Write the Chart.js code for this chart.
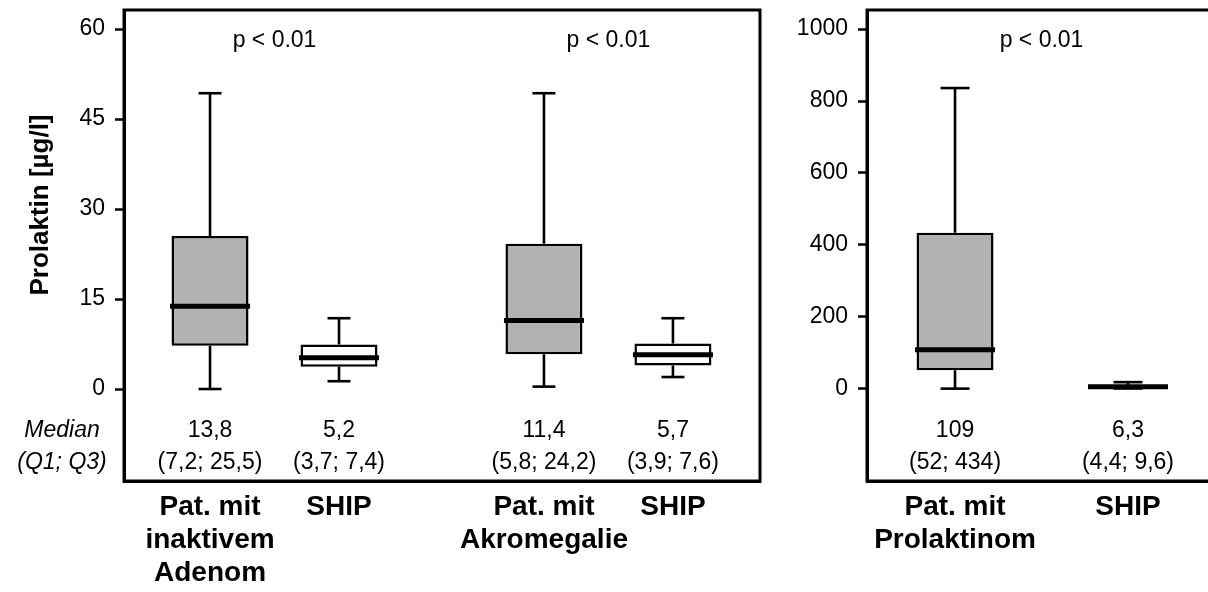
<!DOCTYPE html>
<html><head><meta charset="utf-8">
<script src="https://cdn.jsdelivr.net/npm/chart.js@4.4.1/dist/chart.umd.min.js"></script>
<style>
html,body{margin:0;padding:0;background:#fff;overflow:hidden;width:1208px;height:592px;position:relative}
canvas{position:absolute;top:0}
#c1{left:0}
#c2{left:770px}
</style></head>
<body>
<canvas id="c1" width="770" height="592"></canvas>
<canvas id="c2" width="450" height="592"></canvas>
<script>
// ---- data ----
const leftCategories = [["Pat. mit","inaktivem","Adenom"],["SHIP"],["Pat. mit","Akromegalie"],["SHIP"]];
const leftMin    = [0.0, 1.3, 0.4, 2.0];
const leftQ1     = [7.2, 3.7, 5.8, 3.9];
const leftMedian = [13.8, 5.2, 11.4, 5.7];
const leftQ3     = [25.5, 7.4, 24.2, 7.6];
const leftMax    = [49.3, 11.8, 49.3, 11.8];
const leftYTicks = [0, 15, 30, 45, 60];
const leftPText  = ["p < 0.01", "p < 0.01"];

const rightCategories = [["Pat. mit","Prolaktinom"],["SHIP"]];
const rightMin    = [1, 1.5];
const rightQ1     = [52, 4.4];
const rightMedian = [109, 6.3];
const rightQ3     = [434, 9.6];
const rightMax    = [836, 19];
const rightYTicks = [0, 200, 400, 600, 800, 1000];
const rightPText  = ["p < 0.01"];

const yTitle = "Prolaktin [µg/l]";
const rowLabels = ["Median", "(Q1; Q3)"];

// ---- rendering ----
const FONT = "'Liberation Sans', Arial, Helvetica, sans-serif";
const fmt = v => Number.isInteger(v) ? String(v) : String(v).replace('.', ',');

function build(canvasId, s) {
  const pos = s.categories.map((c, i) => Math.floor(i / s.perPair) * s.pairStep + (i % s.perPair));
  const fills = s.categories.map(c => c[0] === 'SHIP' ? '#ffffff' : '#b2b2b2');
  const boxes = pos.map((p, i) => ({x: p, y: [s.q1[i], s.q3[i]]}));
  const whiskers = [];
  pos.forEach((p, i) => {
    whiskers.push({x: p, y: s.q3[i]}, {x: p, y: s.max[i]}, {x: p, y: null},
                  {x: p, y: s.min[i]}, {x: p, y: s.q1[i]}, {x: p, y: null});
  });
  const caps = [];
  pos.forEach((p, i) => { caps.push({x: p, y: s.max[i]}, {x: p, y: s.min[i]}); });
  const medians = pos.map((p, i) => ({x: p, y: s.median[i]}));

  const textPlugin = {
    id: 'texts',
    afterDraw(chart) {
      const ctx = chart.ctx, xs = chart.scales.x, ys = chart.scales.y, a = chart.chartArea;
      ctx.save();
      ctx.strokeStyle = '#000'; ctx.lineWidth = 3;
      ctx.strokeRect(a.left, a.top, a.right - a.left, a.bottom - a.top);
      ctx.fillStyle = '#000';
      ctx.textAlign = 'center'; ctx.textBaseline = 'middle';
      ctx.font = `23px ${FONT}`;
      const y0 = ys.getPixelForValue(0);
      pos.forEach((p, i) => {
        const x = xs.getPixelForValue(p);
        ctx.fillText(fmt(s.median[i]), x, y0 + 42);
        ctx.fillText(`(${fmt(s.q1[i])}; ${fmt(s.q3[i])})`, x, y0 + 74);
      });
      s.pText.forEach((t, k) => {
        const x = xs.getPixelForValue((pos[k * s.perPair] + pos[k * s.perPair + s.perPair - 1]) / 2);
        ctx.fillText(t, x, a.top + 31);
      });
      if (s.rowLabels) {
        ctx.font = `italic 23px ${FONT}`;
        ctx.fillText(s.rowLabels[0], 62, y0 + 42);
        ctx.fillText(s.rowLabels[1], 62, y0 + 74);
      }
      if (s.title) {
        ctx.font = `bold 26px ${FONT}`;
        ctx.translate(41, ys.getPixelForValue(s.yTicks[s.yTicks.length - 1] / 2) - 4);
        ctx.rotate(-Math.PI / 2);
        ctx.fillText(s.title, 0, 0);
      }
      ctx.restore();
    }
  };

  return new Chart(document.getElementById(canvasId), {
    type: 'bar',
    data: {
      datasets: [
        {type: 'bar', data: boxes, backgroundColor: fills, borderColor: '#000', borderWidth: 2.5,
         borderSkipped: false, barThickness: 77, inflateAmount: 0, order: 4},
        {type: 'line', data: whiskers, borderColor: '#000', borderWidth: 2.6, pointRadius: 0,
         spanGaps: false, fill: false, order: 3},
        {type: 'line', data: caps, showLine: false, pointStyle: 'line', pointRadius: s.capRadius,
         pointBorderWidth: 2.6, borderColor: '#000', pointBorderColor: '#000', order: 2},
        {type: 'line', data: medians, showLine: false, pointStyle: 'line', pointRadius: 40,
         pointBorderWidth: 5, borderColor: '#000', pointBorderColor: '#000', order: 1}
      ]
    },
    options: {
      responsive: false, animation: false, events: [],
      layout: {autoPadding: false, padding: {left: 0, right: s.rightPad, top: 10, bottom: 0}},
      plugins: {legend: {display: false}, tooltip: {enabled: false}},
      scales: {
        x: {
          type: 'linear', min: s.xMin, max: s.xMax, offset: false,
          grid: {display: false, drawTicks: false, offset: false},
          border: {display: true, color: '#000', width: 3},
          afterBuildTicks: sc => { sc.ticks = pos.map(v => ({value: v})); },
          afterFit: sc => { sc.height = 111; sc.paddingLeft = 0; sc.paddingRight = 0; sc.paddingTop = 0; sc.paddingBottom = 0; },
          ticks: {
            autoSkip: false, maxRotation: 0, minRotation: 0, padding: 10, color: '#000',
            font: {family: FONT, size: 28, weight: 'bold', lineHeight: 1.18},
            callback: (v, i) => s.categories[i]
          }
        },
        y: {
          type: 'linear', min: s.yMin, max: s.yMax,
          grid: {display: true, drawOnChartArea: false, drawTicks: true, tickLength: 9, tickWidth: 2.5, tickColor: '#000'},
          border: {display: true, color: '#000', width: 3},
          afterBuildTicks: sc => { sc.ticks = s.yTicks.map(v => ({value: v})); },
          afterFit: sc => { sc.width = s.yWidth; sc.paddingLeft = 0; sc.paddingRight = 0; sc.paddingTop = 0; sc.paddingBottom = 0; },
          ticks: {padding: 10, color: '#000', font: {family: FONT, size: 23}, callback: v => String(v)}
        }
      }
    },
    plugins: [textPlugin]
  });
}

build('c1', {
  categories: leftCategories, min: leftMin, q1: leftQ1, median: leftMedian, q3: leftQ3, max: leftMax,
  yTicks: leftYTicks, pText: leftPText, rowLabels: rowLabels, title: yTitle,
  perPair: 2, pairStep: 2.589, xMin: -0.667, xMax: 4.264, yMin: -15.33, yMax: 63.17,
  yWidth: 124, rightPad: 10, capRadius: 11.5
});
build('c2', {
  categories: rightCategories, min: rightMin, q1: rightQ1, median: rightMedian, q3: rightQ3, max: rightMax,
  yTicks: rightYTicks, pText: rightPText, rowLabels: null, title: null,
  perPair: 2, pairStep: 2, xMin: -0.509, xMax: 1.532, yMin: -255.6, yMax: 1052.8,
  yWidth: 97, rightPad: 0, capRadius: 14.5
});
</script>
</body></html>
